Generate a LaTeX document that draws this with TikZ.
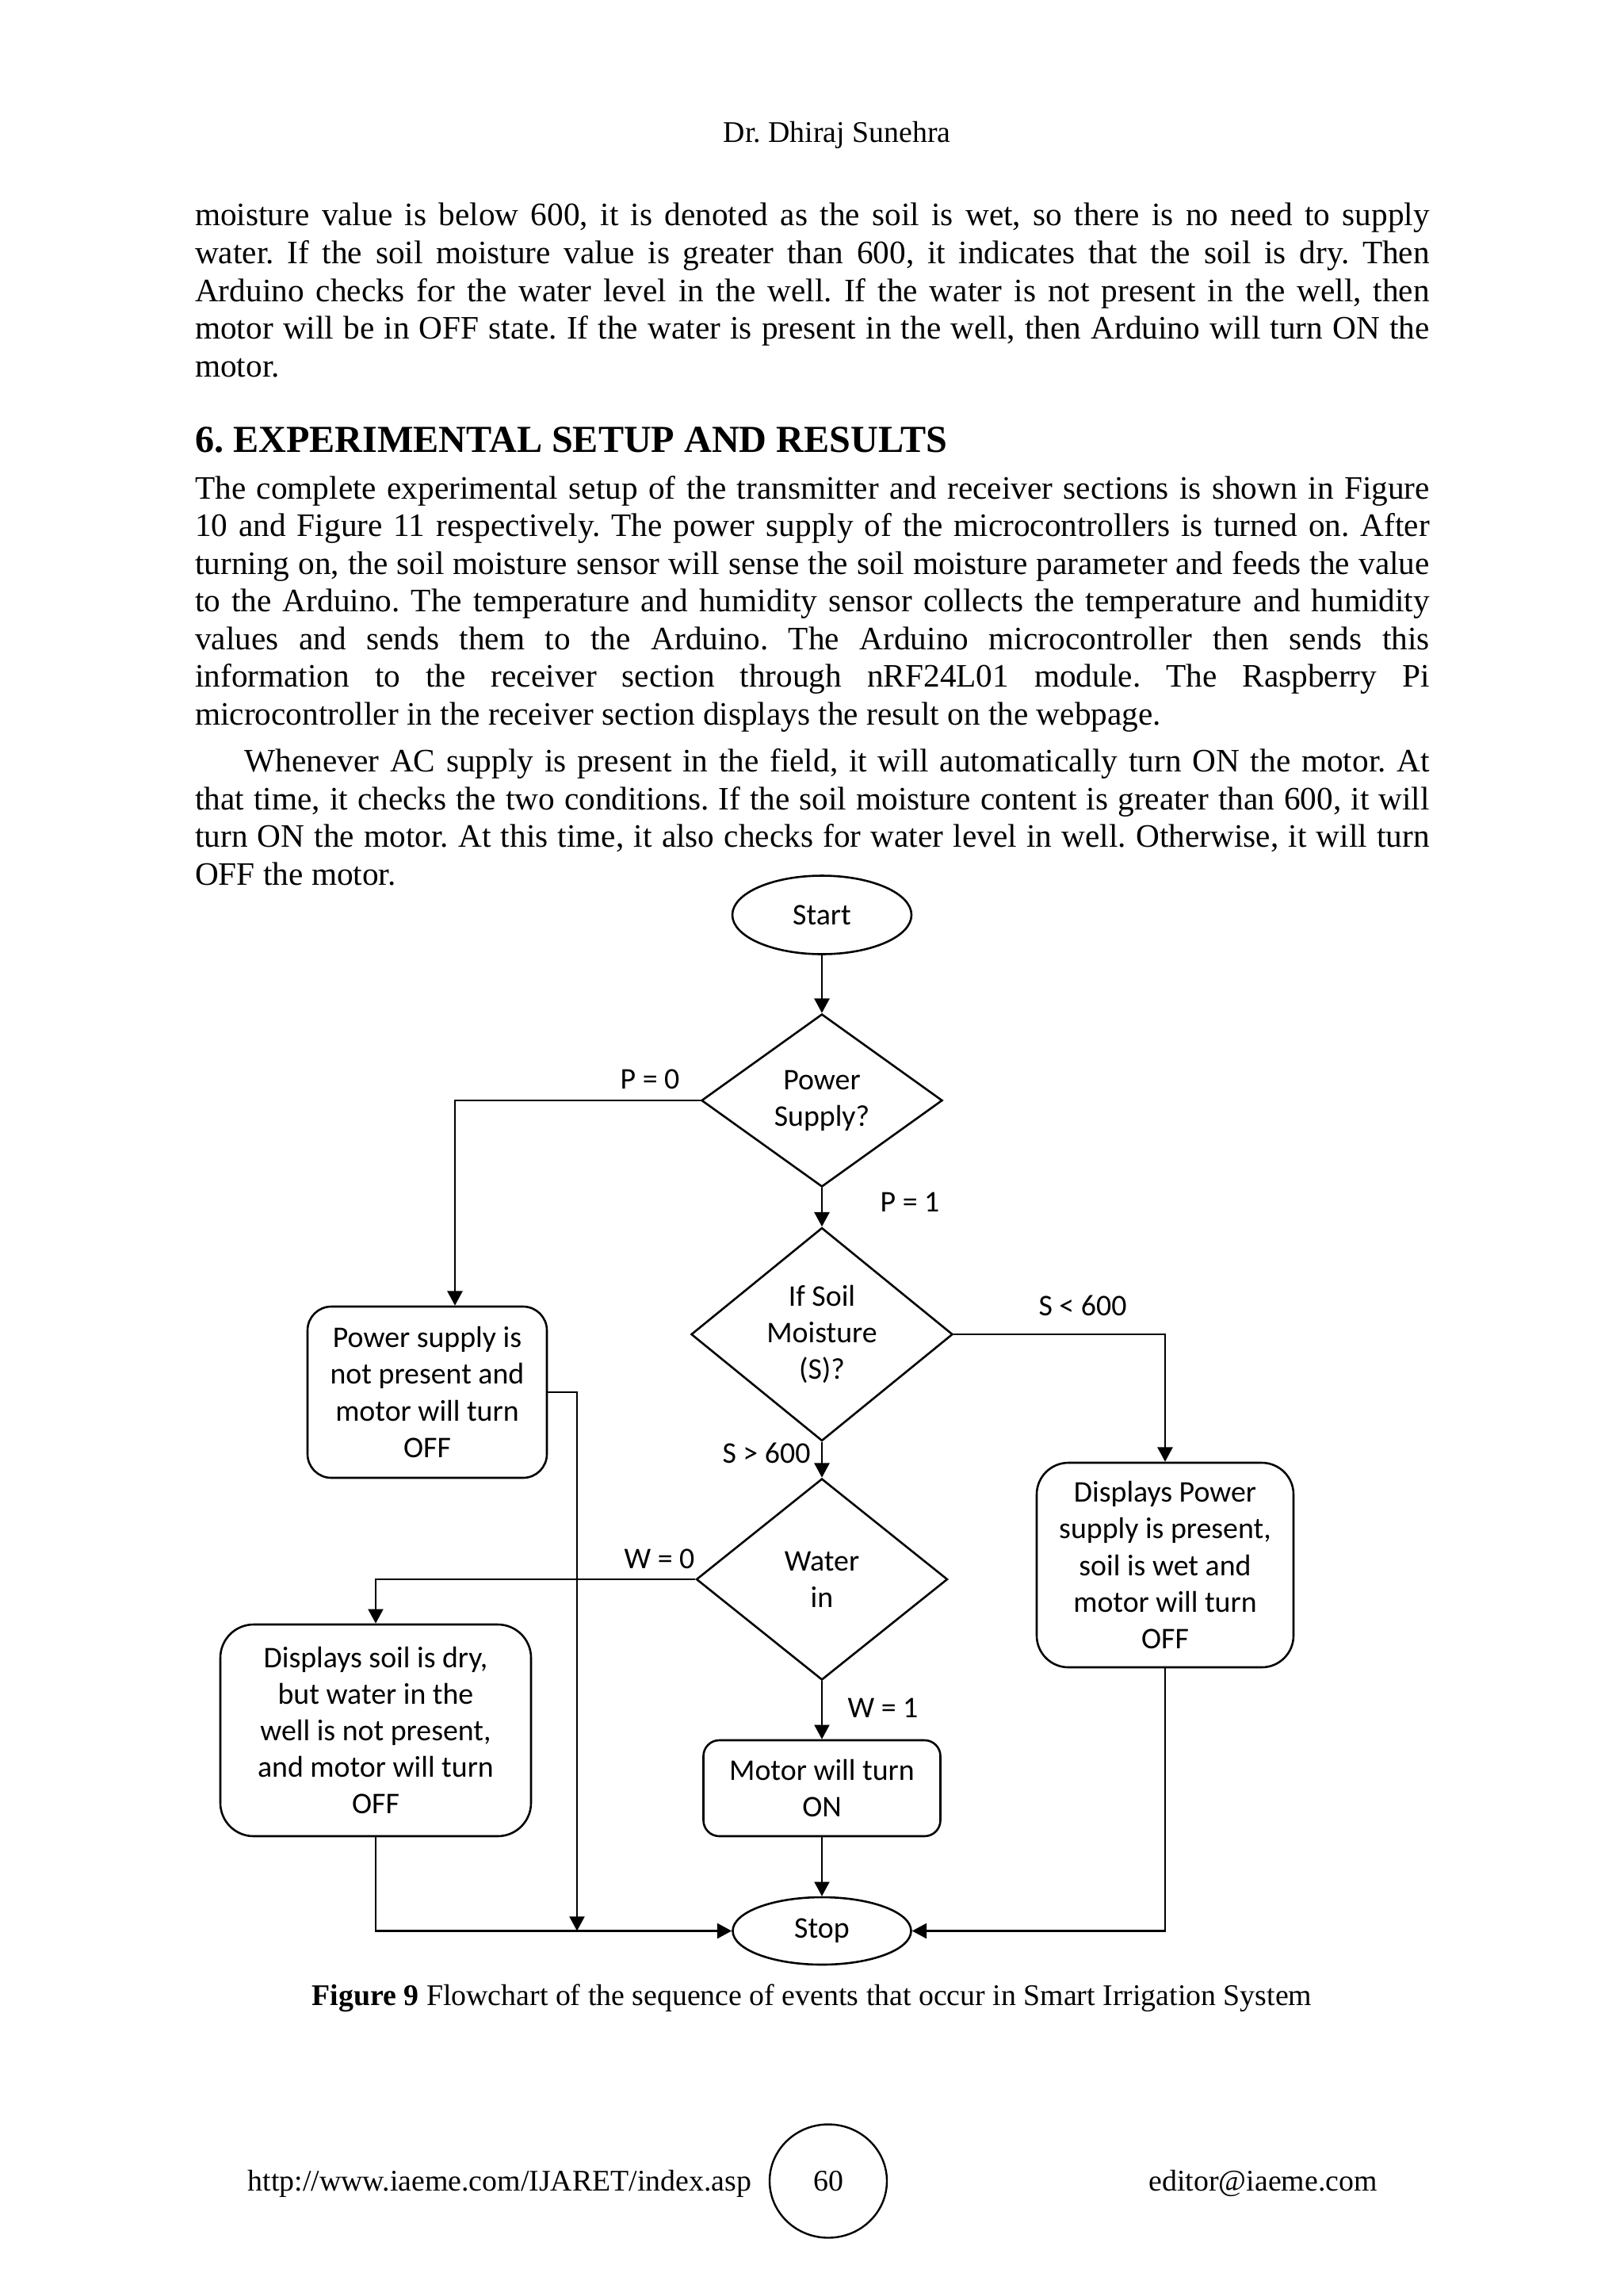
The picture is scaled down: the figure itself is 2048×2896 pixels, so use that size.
\documentclass[tikz,border=0pt]{standalone}
\usepackage{fontspec}
\setmainfont{Liberation Serif}
\newfontfamily\calibrifont{Carlito}
\usetikzlibrary{shapes.geometric,arrows.meta}
\frenchspacing
\newlength\pxu \setlength\pxu{0.29066pt}
\newlength\jw \setlength\jw{1557.5\pxu}
\newlength\jwi \setlength\jwi{1495\pxu}
\newcommand\jline[1]{\makebox[\jw][s]{#1}}
\newcommand\jlinei[1]{\makebox[\jwi][s]{#1}}
\tikzset{
  ln/.style={line width=0.75pt},
  arr/.style={ln,-{Triangle[length=5.3pt,width=5.5pt]}},
  flow/.style={draw,ln,font=\calibrifont\fontsize{11pt}{13.4pt}\selectfont,align=center,inner sep=0pt},
  rbox/.style={flow,rectangle,rounded corners=#1},
  term/.style={flow,ellipse},
  dec/.style={flow,diamond},
  lbl/.style={font=\calibrifont\fontsize{11pt}{13.4pt}\selectfont,inner sep=0pt,anchor=base},
  txt/.style={inner sep=0pt,anchor=base west,font=\fontsize{12pt}{13.8pt}\selectfont},
  small/.style={inner sep=0pt,font=\fontsize{11pt}{12.6pt}\selectfont},
}
\begin{document}
\begin{tikzpicture}[x=0.29066pt,y=-0.29066pt]
\fill[white] (0,0) rectangle (2048,2896);
\useasboundingbox (0,0) rectangle (2048,2896);

% header
\node[small,anchor=base west] (hdr) at (912,179.2) {Dr. Dhiraj Sunehra};

% paragraph 1
\node[txt] (a1) at (245.5,284.8) {\jline{moisture value is below 600, it is denoted as the soil is wet, so there is no need to supply}};
\node[txt] (a2) at (245.5,332.4) {\jline{water. If the soil moisture value is greater than 600, it indicates that the soil is dry. Then}};
\node[txt] (a3) at (245.5,380.0) {\jline{Arduino checks for the water level in the well. If the water is not present in the well, then}};
\node[txt] (a4) at (245.5,427.6) {\jline{motor will be in OFF state. If the water is present in the well, then Arduino will turn ON the}};
\node[txt] (a5) at (245.5,475.2) {motor.};

% heading
\node[txt,font=\fontsize{14pt}{16pt}\selectfont\bfseries] (h6) at (245.5,570.7) {6. EXPERIMENTAL SETUP AND RESULTS};

% paragraph 2
\node[txt] (b1) at (245.5,629.3) {\jline{The complete experimental setup of the transmitter and receiver sections is shown in Figure}};
\node[txt] (b2) at (245.5,676.8) {\jline{10 and Figure 11 respectively. The power supply of the microcontrollers is turned on. After}};
\node[txt] (b3) at (245.5,724.2) {\jline{turning on, the soil moisture sensor will sense the soil moisture parameter and feeds the value}};
\node[txt] (b4) at (245.5,771.6) {\jline{to the Arduino. The temperature and humidity sensor collects the temperature and humidity}};
\node[txt] (b5) at (245.5,819.1) {\jline{values and sends them to the Arduino. The Arduino microcontroller then sends this}};
\node[txt] (b6) at (245.5,866.5) {\jline{information to the receiver section through nRF24L01 module. The Raspberry Pi}};
\node[txt] (b7) at (245.5,914.0) {microcontroller in the receiver section displays the result on the webpage.};

% paragraph 3
\node[txt] (c1) at (308,973.7) {\jlinei{Whenever AC supply is present in the field, it will automatically turn ON the motor. At}};
\node[txt] (c2) at (245.5,1021.3) {\jline{that time, it checks the two conditions. If the soil moisture content is greater than 600, it will}};
\node[txt] (c3) at (245.5,1068.9) {\jline{turn ON the motor. At this time, it also checks for water level in well. Otherwise, it will turn}};
\node[txt] (c4) at (245.5,1116.5) {OFF the motor.};

% flowchart nodes
\node[term,minimum width=226\pxu,minimum height=99\pxu] (start) at (1037,1154) {Start};
\node[dec,aspect=1.394,minimum width=304\pxu,minimum height=218\pxu] (ps) at (1037,1388) {Power\\Supply?};
\node[dec,aspect=1.227,minimum width=330\pxu,minimum height=269\pxu] (soil) at (1037,1683) {If Soil\\Moisture\\(S)?};
\node[dec,aspect=1.248,minimum width=317\pxu,minimum height=254\pxu] (water) at (1037,1992) {Water\\in};
\node[rbox=30\pxu,minimum width=302\pxu,minimum height=216\pxu] (psbox) at (539,1756) {Power supply is\\not present and\\motor will turn\\OFF};
\node[rbox=40\pxu,minimum width=324\pxu,minimum height=258\pxu] (wetbox) at (1470,1974) {Displays Power\\supply is present,\\soil is wet and\\motor will turn\\OFF};
\node[rbox=42\pxu,minimum width=392\pxu,minimum height=267\pxu] (drybox) at (474,2182.5) {Displays soil is dry,\\but water in the\\well is not present,\\and motor will turn\\OFF};
\node[rbox=20\pxu,minimum width=299\pxu,minimum height=121\pxu] (motor) at (1037,2255.5) {Motor will turn\\ON};
\node[term,minimum width=225\pxu,minimum height=85\pxu] (stop) at (1037,2435.5) {Stop};
\coordinate (j1) at (728,2435.5);

% labels
\node[lbl] (p0) at (820,1373) {P = 0};
\node[lbl] (p1) at (1148,1528) {P = 1};
\node[lbl] (slt) at (1366,1659) {S < 600};
\node[lbl] (sgt) at (967,1845) {S > 600};
\node[lbl] (w0) at (832,1978) {W = 0};
\node[lbl] (w1) at (1114,2166) {W = 1};

% connectors
\draw[arr] (start.south) -- (ps.north);
\draw[arr] (ps.south) -- (soil.north);
\draw[arr] (soil.south) -- (water.north);
\draw[arr] (water.south) -- (motor.north);
\draw[arr] (motor.south) -- (stop.north);
\draw[arr] (ps.west) -| ([xshift=35\pxu]psbox.north);
\draw[arr] (soil.east) -| (wetbox.north);
\draw[arr] (water.west) -| (drybox.north);
\draw[arr] (psbox.east) -| (j1);
\draw[arr] (drybox.south) |- (stop.west);
\draw[arr] (wetbox.south) |- (stop.east);

% caption
\node[small,anchor=base] (cap) at (1024.5,2529) {\textbf{Figure 9} Flowchart of the sequence of events that occur in Smart Irrigation System};

% footer
\node[small,anchor=base west] (url) at (312,2763) {http://www.iaeme.com/IJARET/index.asp};
\node[small,draw,ellipse,line width=0.7pt,minimum width=148\pxu,minimum height=143\pxu] (pg) at (1045,2751) {60};
\node[small,anchor=base west] (mail) at (1449,2763) {editor@iaeme.com};
\end{tikzpicture}
\end{document}
